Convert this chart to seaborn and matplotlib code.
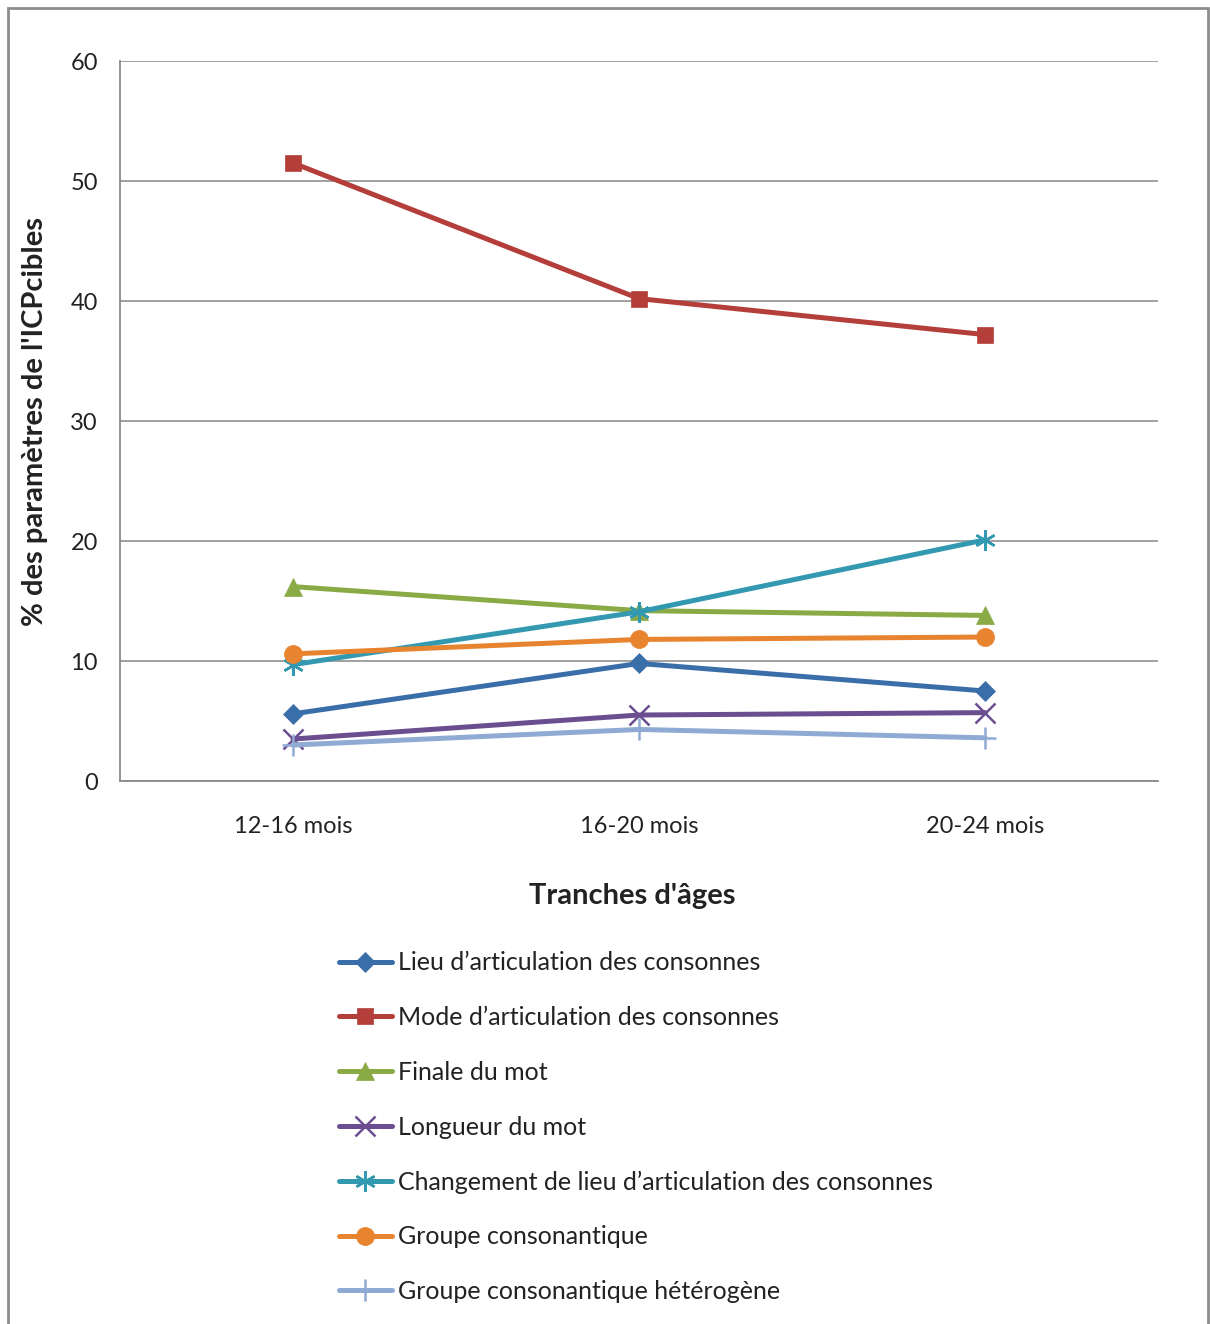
import pandas as pd
import seaborn as sns
import matplotlib.pyplot as plt
from matplotlib.patches import Rectangle
from matplotlib.ticker import FixedLocator

# data
ages = ["12-16 mois", "16-20 mois", "20-24 mois"]
series = [
    "Lieu d\u2019articulation des consonnes",
    "Mode d\u2019articulation des consonnes",
    "Finale du mot",
    "Longueur du mot",
    "Changement de lieu d\u2019articulation des consonnes",
    "Groupe consonantique",
    "Groupe consonantique hétérogène",
]
lieu = [5.6, 9.8, 7.5]
mode = [51.5, 40.2, 37.2]
finale = [16.2, 14.2, 13.8]
longueur = [3.5, 5.5, 5.7]
changement = [9.7, 14.1, 20.1]
groupe = [10.6, 11.8, 12.0]
heterogene = [3.0, 4.3, 3.6]
values = [lieu, mode, finale, longueur, changement, groupe, heterogene]

colors = ["#3A6EA8", "#B43E3A", "#8AAA46", "#6B4E90", "#3399B0", "#E8842F", "#8FAAD3"]
markers = ["D", "s", "^", "x", (6, 2, 0), "o", "+"]
msizes = [10, 12, 13, 14, 15, 13, 16]

rows = []
for name, vals in zip(series, values):
    for a, v in zip(ages, vals):
        rows.append({"age": a, "serie": name, "val": v})
df = pd.DataFrame(rows)

sns.set_style("white")
plt.rcParams["font.family"] = ["Lato", "DejaVu Sans"]

fig = plt.figure(figsize=(12.1, 13.24), dpi=100)
ax = fig.add_axes([0.0992, 0.4101, 0.858, 0.5438])

for name, c, m, ms in zip(series, colors, markers, msizes):
    sub = df[df["serie"] == name]
    line_marker = m in ("x", "+") or isinstance(m, tuple)
    sns.lineplot(data=sub, x="age", y="val", ax=ax, color=c, marker=m,
                 markersize=ms, markeredgewidth=1.8 if line_marker else 0.5,
                 markeredgecolor=c, linewidth=3.6, label=name, sort=False)

ax.set_xlim(-0.5, 2.5)
ax.set_ylim(0, 60)
ax.set_yticks(range(0, 61, 10))
ax.yaxis.grid(True, color="#9A9A9A", linewidth=1.3)
ax.set_axisbelow(True)
ax.xaxis.set_minor_locator(FixedLocator([-0.5, 0.5, 1.5, 2.5]))
ax.tick_params(axis="x", which="major", length=0, pad=25, labelsize=17, labelcolor="#222222")
ax.tick_params(axis="x", which="minor", length=6, width=1.3, color="#8A8A8A", direction="out")
ax.tick_params(axis="y", length=6, width=1.3, color="#8A8A8A", direction="out", labelsize=17,
               labelcolor="#222222", pad=10)
for s in ["top", "right"]:
    ax.spines[s].set_visible(False)
for s in ["left", "bottom"]:
    ax.spines[s].set_color("#8A8A8A")
    ax.spines[s].set_linewidth(1.3)

ax.set_xlabel("Tranches d'âges", fontsize=21, fontweight="bold", color="#222222")
ax.xaxis.set_label_coords(0.493, -0.142)
ax.set_ylabel("% des paramètres de l'ICPcibles", fontsize=21, fontweight="bold", color="#222222")
ax.yaxis.set_label_coords(-0.069, 0.5)

h, l = ax.get_legend_handles_labels()
ax.legend_.remove()
fig.legend(h, l, loc="upper left", bbox_to_anchor=(0.272, 0.289), frameon=False,
           fontsize=18, labelspacing=1.27, handlelength=2.1, handletextpad=0.25,
           borderaxespad=0, labelcolor="#222222")

fig.patches.append(Rectangle((8 / 1210, -0.01), 1200 / 1210, 1 - 8 / 1324 + 0.01,
                             transform=fig.transFigure, fill=False, edgecolor="#8C8C8C",
                             linewidth=2))

fig.savefig("out.png", dpi=100)
